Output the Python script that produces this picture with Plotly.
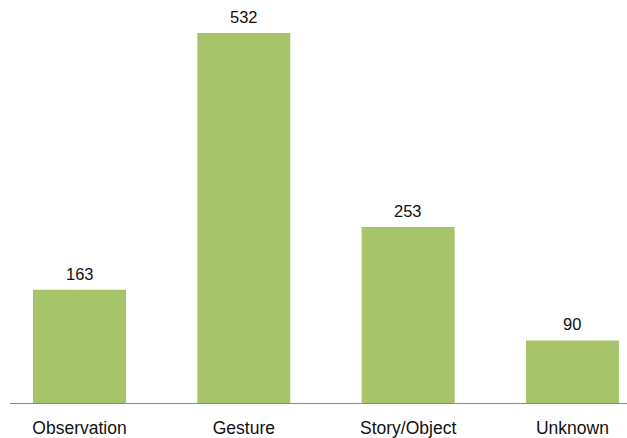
import plotly.graph_objects as go

categories = ["Observation", "Gesture", "Story/Object", "Unknown"]
counts = [163, 532, 253, 90]

bar_color = "#A8C46B"
font_family = "Liberation Sans, Arial, Helvetica, sans-serif"

fig = go.Figure(
    go.Bar(
        x=categories,
        y=counts,
        marker=dict(color=bar_color, line=dict(width=0)),
        hoverinfo="skip",
    )
)

# value labels above each bar
for cat, val in zip(categories, counts):
    fig.add_annotation(
        x=cat, y=val, text=str(val), showarrow=False,
        yanchor="bottom", yshift=5,
        font=dict(family=font_family, size=16.5, color="#111111"),
    )

fig.update_layout(
    width=627,
    height=438,
    margin=dict(l=10, r=0, t=0, b=35),
    paper_bgcolor="white",
    plot_bgcolor="white",
    bargap=0.434,
    showlegend=False,
    font=dict(family=font_family, size=17.5, color="#111111"),
)

fig.update_xaxes(
    range=[-0.423, 3.332],
    showline=True, linecolor="#8a8a8a", linewidth=1,
    showgrid=False, zeroline=False,
    ticks="outside", ticklen=9, tickcolor="rgba(0,0,0,0)",
    tickfont=dict(family=font_family, size=17.5, color="#111111"),
)
fig.update_yaxes(
    range=[0, 579.4],
    visible=False,
)

fig.write_html("out.html")
